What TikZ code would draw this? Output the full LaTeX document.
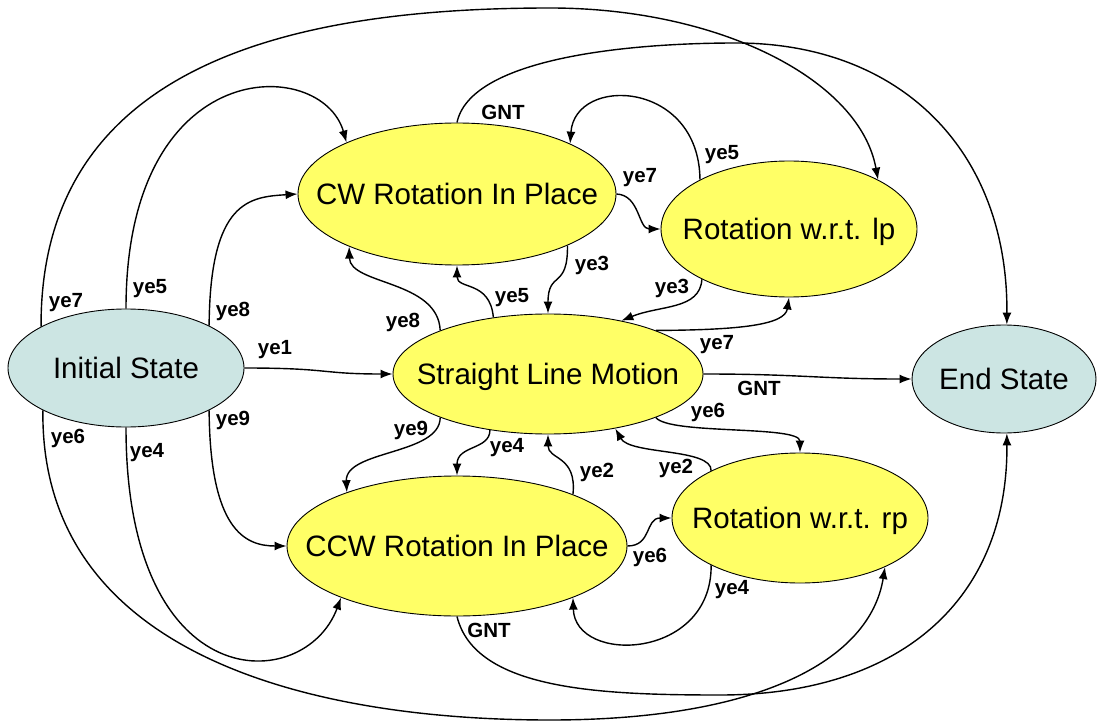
\documentclass[tikz,border=0pt]{standalone}
\usepackage{fontspec}
\setmainfont{Liberation Sans}
\usetikzlibrary{shapes.geometric,arrows.meta}
\definecolor{statefill}{RGB}{255,255,102}
\definecolor{termfill}{RGB}{204,229,227}
\tikzset{
  state/.style={ellipse, draw=black, line width=0.9pt, fill=statefill, inner sep=0pt},
  term/.style={state, fill=termfill},
  statetext/.style={font=\fontsize{29.5}{34}\selectfont, text depth=0pt, inner sep=0pt},
  trans/.style={line width=1.4pt, -{Latex[length=12pt,width=9pt]}},
  evt/.style={font=\fontsize{20.5}{24}\selectfont\bfseries, inner sep=0pt},
}
\begin{document}
\begin{tikzpicture}[x=1pt,y=-1pt]
\useasboundingbox (0,0) rectangle (1097,727);

% states
\node[term,  minimum width=236pt, minimum height=118pt, label={[statetext]center:Initial State}] (init) at (126,368) {};
\node[state, minimum width=318pt, minimum height=142pt, label={[statetext]center:CW Rotation In Place}] (cw) at (457,194) {};
\node[state, minimum width=256pt, minimum height=136pt, label={[statetext]center:Rotation w.r.t. lp}] (lp) at (789,229) {};
\node[state, minimum width=310pt, minimum height=120pt, label={[statetext]center:Straight Line Motion}] (slm) at (548,374) {};
\node[term,  minimum width=184pt, minimum height=108pt, label={[statetext]center:End State}] (end) at (1004,379) {};
\node[state, minimum width=340pt, minimum height=140pt, label={[statetext]center:CCW Rotation In Place}] (ccw) at (457,546) {};
\node[state, minimum width=256pt, minimum height=130pt, label={[statetext]center:Rotation w.r.t. rp}] (rp) at (800,518) {};

% turning points of the long arcs
\coordinate (topmid) at (550,8);
\coordinate (botmid) at (550,720);
\coordinate (gnttop) at (736,43);
\coordinate (gntbot) at (720,695);

% transitions leaving the initial state
\draw[trans] (init.0) .. controls (330,368) and (320,374) .. (slm.180);
\draw[trans] (init.27) .. controls (210,200) and (250,197) .. (cw.180);
\draw[trans] (init.-27) .. controls (210,530) and (245,546) .. (ccw.180);
\draw[trans] (init.90) .. controls (126,52) and (322,56) .. (cw.155);
\draw[trans] (init.-90) .. controls (126,700) and (305,695) .. (ccw.-156);
\draw[trans] (init.154) .. controls (40,60) and (300,8) .. (topmid)
             .. controls (720,8) and (860,80) .. (lp.29);
\draw[trans] (init.-153) .. controls (40,650) and (300,720) .. (botmid)
             .. controls (760,720) and (870,660) .. (rp.-30);

% transitions to the end state
\draw[trans] (cw.90) .. controls (470,60) and (620,43) .. (gnttop)
             .. controls (900,43) and (1008,150) .. (end.87);
\draw[trans] (ccw.-90) .. controls (475,690) and (600,695) .. (gntbot)
             .. controls (900,695) and (1008,600) .. (end.-87);
\draw[trans] (slm.0) .. controls (800,374) and (820,379) .. (end.180);

% upper half
\draw[trans] (cw.0) .. controls (640,195) and (638,229) .. (lp.180);
\draw[trans] (lp.151) .. controls (699,80) and (575,75) .. (cw.24);
\draw[trans] (cw.-25) .. controls (568,290) and (548,270) .. (slm.90);
\draw[trans] (lp.-150) .. controls (700,310) and (660,305) .. (slm.36);
\draw[trans] (slm.158) .. controls (438,280) and (350,285) .. (cw.-154);
\draw[trans] (slm.134) .. controls (490,280) and (457,290) .. (cw.-90);
\draw[trans] (slm.22) .. controls (740,330) and (785,325) .. (lp.-90);

% lower half
\draw[trans] (slm.-22) .. controls (670,435) and (800,425) .. (rp.90);
\draw[trans] (rp.152) .. controls (712,448) and (630,455) .. (slm.-39);
\draw[trans] (ccw.24) .. controls (577,455) and (548,460) .. (slm.-90);
\draw[trans] (slm.-136) .. controls (490,450) and (457,445) .. (ccw.90);
\draw[trans] (slm.-158) .. controls (440,455) and (345,450) .. (ccw.154);
\draw[trans] (ccw.0) .. controls (652,546) and (645,518) .. (rp.180);
\draw[trans] (rp.-152) .. controls (712,660) and (575,665) .. (ccw.-24);

% event labels
\node[evt] (l01) at (275,350) {ye1};
\node[evt] (l02) at (233,311) {ye8};
\node[evt] (l03) at (233,420) {ye9};
\node[evt] (l04) at (150,289) {ye5};
\node[evt] (l05) at (147,453) {ye4};
\node[evt] (l06) at (66,303) {ye7};
\node[evt] (l07) at (68,438) {ye6};
\node[evt] (l08) at (503,112) {GNT};
\node[evt] (l09) at (489,630) {GNT};
\node[evt] (l10) at (759,388) {GNT};
\node[evt] (l11) at (640,178) {ye7};
\node[evt] (l12) at (722,155) {ye5};
\node[evt] (l13) at (592,265) {ye3};
\node[evt] (l14) at (672,288) {ye3};
\node[evt] (l15) at (403,322) {ye8};
\node[evt] (l16) at (512,298) {ye5};
\node[evt] (l17) at (717,345) {ye7};
\node[evt] (l18) at (708,412) {ye6};
\node[evt] (l19) at (676,468) {ye2};
\node[evt] (l20) at (597,472) {ye2};
\node[evt] (l21) at (507,448) {ye4};
\node[evt] (l22) at (411,430) {ye9};
\node[evt] (l23) at (650,557) {ye6};
\node[evt] (l24) at (732,590) {ye4};
\end{tikzpicture}
\end{document}
